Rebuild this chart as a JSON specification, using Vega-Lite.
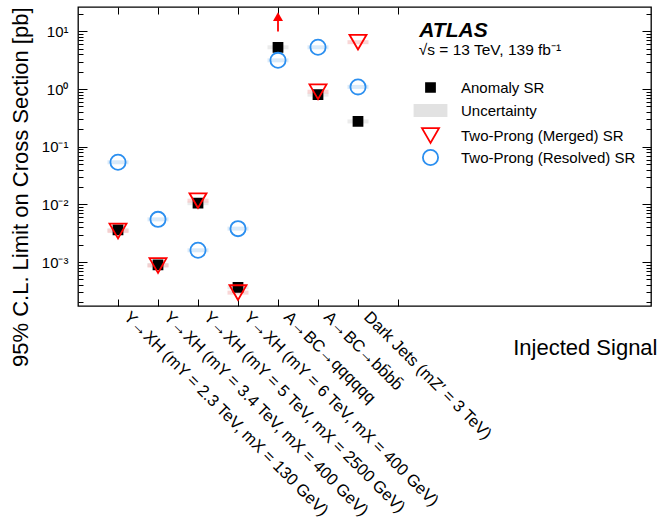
{
  "$schema": "https://vega.github.io/schema/vega-lite/v6.json",
  "width": 573,
  "height": 299,
  "autosize": {"type": "none"},
  "padding": {"left": 78, "top": 7, "right": 8, "bottom": 219},
  "background": "white",
  "config": {
    "view": {"stroke": "black", "strokeWidth": 1.3},
    "font": "Liberation Sans",
    "axis": {"grid": false, "domain": false, "labelFont": "Liberation Sans", "titleFont": "Liberation Sans", "labelColor": "black", "titleColor": "black", "tickColor": "black", "tickWidth": 1}
  },
  "datasets": {
    "limits": [
      {"signal": 1, "series": "Anomaly SR", "limit": 0.0036},
      {"signal": 1, "series": "Two-Prong (Merged) SR", "limit": 0.00345},
      {"signal": 1, "series": "Two-Prong (Resolved) SR", "limit": 0.0537},
      {"signal": 2, "series": "Anomaly SR", "limit": 0.00089},
      {"signal": 2, "series": "Two-Prong (Merged) SR", "limit": 0.00087},
      {"signal": 2, "series": "Two-Prong (Resolved) SR", "limit": 0.0055},
      {"signal": 3, "series": "Anomaly SR", "limit": 0.0105},
      {"signal": 3, "series": "Two-Prong (Merged) SR", "limit": 0.0116},
      {"signal": 3, "series": "Two-Prong (Resolved) SR", "limit": 0.0016},
      {"signal": 4, "series": "Anomaly SR", "limit": 0.000365},
      {"signal": 4, "series": "Two-Prong (Merged) SR", "limit": 0.000295},
      {"signal": 4, "series": "Two-Prong (Resolved) SR", "limit": 0.0038},
      {"signal": 5, "series": "Anomaly SR", "limit": 5.3},
      {"signal": 5, "series": "Two-Prong (Resolved) SR", "limit": 3.15},
      {"signal": 6, "series": "Anomaly SR", "limit": 0.8},
      {"signal": 6, "series": "Two-Prong (Merged) SR", "limit": 0.9},
      {"signal": 6, "series": "Two-Prong (Resolved) SR", "limit": 5.3},
      {"signal": 7, "series": "Anomaly SR", "limit": 0.275},
      {"signal": 7, "series": "Two-Prong (Merged) SR", "limit": 6.5},
      {"signal": 7, "series": "Two-Prong (Resolved) SR", "limit": 1.09}
    ],
    "arrows": [
      {"signal": 5, "series": "Two-Prong (Merged) SR", "from": 10, "to": 18}
    ]
  },
  "layer": [
    {
      "data": {"name": "limits"},
      "mark": {"type": "tick", "orient": "horizontal", "size": 21, "thickness": 4},
      "encoding": {
        "x": {
          "field": "signal", "type": "quantitative",
          "scale": {"domain": [0, 14.325], "nice": false, "zero": false},
          "axis": {
            "orient": "bottom", "values": [1, 2, 3, 4, 5, 6, 7], "ticks": false, "tickSize": 0,
            "labelExpr": "datum.value == 1 ? 'Y→XH (mY = 2.3 TeV, mX = 130 GeV)' : datum.value == 2 ? 'Y→XH (mY = 3.4 TeV, mX = 400 GeV)' : datum.value == 3 ? 'Y→XH (mY = 5 TeV, mX = 2500 GeV)' : datum.value == 4 ? 'Y→XH (mY = 6 TeV, mX = 400 GeV)' : datum.value == 5 ? 'A→BC→qqqqqq' : datum.value == 6 ? 'A→BC→bb̄bb̄' : datum.value == 7 ? 'Dark Jets (mZ′ = 3 TeV)' : ''",
            "labelAngle": 45, "labelAlign": "left", "labelBaseline": "middle",
            "labelPadding": 8, "labelOffset": 8, "labelFontSize": 16.5, "labelLimit": 600,
            "labelOverlap": false, "labelBound": false, "labelFlush": false,
            "title": "Injected Signal", "titleFontSize": 22, "titleFontWeight": "normal",
            "titleAnchor": "end", "titleAlign": "right", "titleBaseline": "alphabetic",
            "titleX": 579, "titleY": 48
          }
        },
        "y": {
          "field": "limit", "type": "quantitative",
          "scale": {"type": "log", "domain": [0.000173, 26.5], "nice": false},
          "axis": {
            "orient": "left", "values": [0.001, 0.01, 0.1, 1, 10], "ticks": false, "tickSize": 0,
            "labelExpr": "datum.value == 10 ? '10¹' : datum.value == 1 ? '10⁰' : datum.value == 0.1 ? '10⁻¹' : datum.value == 0.01 ? '10⁻²' : datum.value == 0.001 ? '10⁻³' : ''",
            "labelFontSize": 15, "labelPadding": 10,
            "title": "95% C.L. Limit on Cross Section [pb]", "titleFontSize": 22, "titleFontWeight": "normal",
            "titleAnchor": "end", "titlePadding": 9
          }
        },
        "color": {
          "field": "series", "type": "nominal",
          "scale": {"domain": ["Anomaly SR", "Two-Prong (Merged) SR", "Two-Prong (Resolved) SR"], "range": ["#e2e2e2", "#f6c4c4", "#cbe1f7"]},
          "legend": null
        }
      }
    },
    {
      "data": {"name": "limits"},
      "mark": {"type": "point", "strokeWidth": 1.8, "opacity": 1},
      "encoding": {
        "x": {
          "field": "signal", "type": "quantitative",
          "axis": {"orient": "bottom", "values": [1, 2, 3, 4, 5, 6, 7, 8], "tickSize": -7, "labels": false, "title": null}
        },
        "y": {
          "field": "limit", "type": "quantitative",
          "axis": {
            "orient": "left", "labels": false, "title": null,
            "values": [0.0002, 0.0003, 0.0004, 0.0005, 0.0006, 0.0007, 0.0008, 0.0009, 0.001, 0.002, 0.003, 0.004, 0.005, 0.006, 0.007, 0.008, 0.009, 0.01, 0.02, 0.03, 0.04, 0.05, 0.06, 0.07, 0.08, 0.09, 0.1, 0.2, 0.3, 0.4, 0.5, 0.6, 0.7, 0.8, 0.9, 1, 2, 3, 4, 5, 6, 7, 8, 9, 10, 20],
            "tickSize": {"condition": {"test": "indexof([0.001, 0.01, 0.1, 1, 10], datum.value) >= 0", "value": -9}, "value": -5}
          }
        },
        "shape": {
          "field": "series", "type": "nominal",
          "scale": {"domain": ["Anomaly SR", "Uncertainty", "Two-Prong (Merged) SR", "Two-Prong (Resolved) SR"], "range": ["square", "M-3.2,-1.1H3.2V1.1H-3.2Z", "triangle-down", "circle"]},
          "legend": {
            "title": null, "orient": "none", "legendX": 343, "legendY": 73,
            "labelFontSize": 15, "labelFont": "Liberation Sans", "labelColor": "black", "labelLimit": 400,
            "labelOffset": 21, "rowPadding": -1, "gridAlign": "all", "padding": 0, "symbolStrokeWidth": 1.8
          }
        },
        "stroke": {
          "field": "series", "type": "nominal",
          "scale": {"domain": ["Anomaly SR", "Uncertainty", "Two-Prong (Merged) SR", "Two-Prong (Resolved) SR"], "range": ["black", "#e2e2e2", "#ff0000", "#2b8ff0"]}
        },
        "fill": {
          "field": "series", "type": "nominal",
          "scale": {"domain": ["Anomaly SR", "Uncertainty", "Two-Prong (Merged) SR", "Two-Prong (Resolved) SR"], "range": ["black", "#e2e2e2", "transparent", "transparent"]}
        },
        "size": {
          "field": "series", "type": "nominal",
          "scale": {"type": "ordinal", "domain": ["Anomaly SR", "Uncertainty", "Two-Prong (Merged) SR", "Two-Prong (Resolved) SR"], "range": [80, 100, 290, 231]}
        }
      }
    },
    {
      "data": {"name": "arrows"},
      "mark": {"type": "rule", "color": "#ff0000", "strokeWidth": 1.8},
      "encoding": {
        "x": {
          "field": "signal", "type": "quantitative",
          "axis": {"orient": "top", "values": [1, 2, 3, 4, 5, 6, 7, 8], "tickSize": -7, "labels": false, "title": null}
        },
        "y": {
          "field": "from", "type": "quantitative",
          "axis": {
            "orient": "right", "labels": false, "title": null,
            "values": [0.0002, 0.0003, 0.0004, 0.0005, 0.0006, 0.0007, 0.0008, 0.0009, 0.001, 0.002, 0.003, 0.004, 0.005, 0.006, 0.007, 0.008, 0.009, 0.01, 0.02, 0.03, 0.04, 0.05, 0.06, 0.07, 0.08, 0.09, 0.1, 0.2, 0.3, 0.4, 0.5, 0.6, 0.7, 0.8, 0.9, 1, 2, 3, 4, 5, 6, 7, 8, 9, 10, 20],
            "tickSize": {"condition": {"test": "indexof([0.001, 0.01, 0.1, 1, 10], datum.value) >= 0", "value": -9}, "value": -5}
          }
        },
        "y2": {"field": "to"}
      }
    },
    {
      "data": {"name": "arrows"},
      "mark": {"type": "point", "shape": "triangle-up", "filled": true, "color": "#ff0000", "size": 100, "opacity": 1},
      "encoding": {
        "x": {"field": "signal", "type": "quantitative", "axis": null},
        "y": {"field": "to", "type": "quantitative", "axis": null}
      }
    },
    {
      "mark": {"type": "rule", "color": "black", "strokeWidth": 1.5, "strokeDash": [12, 6]},
      "encoding": {
        "x": {"datum": 8, "type": "quantitative", "axis": null}
      }
    },
    {
      "data": {"values": [{"label": "ATLAS"}]},
      "mark": {"type": "text", "align": "left", "baseline": "alphabetic", "font": "Liberation Sans", "fontSize": 21, "fontWeight": "bold", "fontStyle": "italic", "color": "black"},
      "encoding": {
        "x": {"datum": 8.53, "type": "quantitative", "axis": null},
        "y": {"datum": 8.1, "type": "quantitative", "axis": null},
        "text": {"field": "label", "type": "nominal"}
      }
    },
    {
      "data": {"values": [{"label": "√s = 13 TeV, 139 fb⁻¹"}]},
      "mark": {"type": "text", "align": "left", "baseline": "alphabetic", "font": "Liberation Sans", "fontSize": 15.5, "color": "black"},
      "encoding": {
        "x": {"datum": 8.52, "type": "quantitative", "axis": null},
        "y": {"datum": 3.95, "type": "quantitative", "axis": null},
        "text": {"field": "label", "type": "nominal"}
      }
    }
  ],
  "resolve": {"axis": {"x": "independent", "y": "independent"}}
}
